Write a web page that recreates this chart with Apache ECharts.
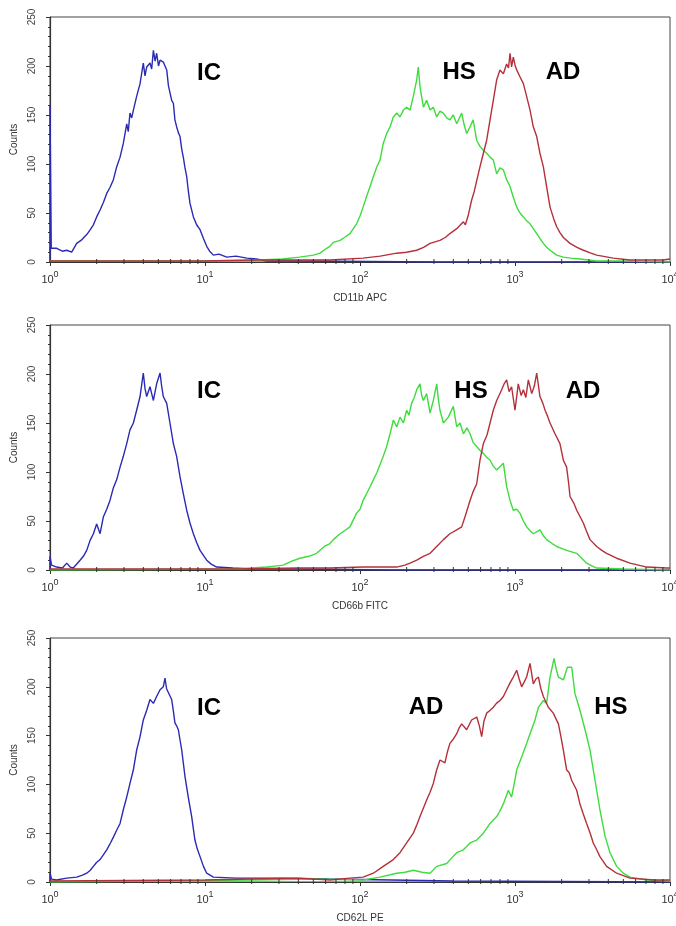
<!DOCTYPE html>
<html>
<head>
<meta charset="utf-8">
<script src="https://cdn.jsdelivr.net/npm/echarts@6/dist/echarts.min.js"></script>
<style>html,body{margin:0;padding:0;background:#fff;}#c{width:676px;height:926px;}</style>
</head>
<body>
<div id="c"></div>
<script>
// x values are log10(fluorescence), y values are counts
const axisNames = ['CD11b APC', 'CD66b FITC', 'CD62L PE'];
const xTickExponents = [0, 1, 2, 3, 4];
const yTicks = [0, 50, 100, 150, 200, 250];
const minorTickValues = [2,3,4,5,6,7,8,9,20,30,40,50,60,70,80,90,200,300,400,500,600,700,800,900,2000,3000,4000,5000,6000,7000,8000,9000];

const cd11bIC = [[0,0],[0,160],[0.008,14],[0.043,14],[0.08,11],[0.108,12],[0.14,10],[0.172,19],[0.2,22],[0.237,28],[0.26,33],[0.28,38],[0.301,46],[0.323,53],[0.345,61],[0.366,70],[0.387,76],[0.409,84],[0.43,97],[0.452,107],[0.473,121],[0.495,141],[0.505,133],[0.516,152],[0.527,147],[0.538,155],[0.559,169],[0.581,182],[0.602,203],[0.613,190],[0.624,199],[0.645,203],[0.656,197],[0.667,216],[0.678,205],[0.688,213],[0.7,200],[0.71,206],[0.731,204],[0.753,196],[0.764,180],[0.774,179],[0.785,165],[0.796,162],[0.806,145],[0.817,138],[0.828,132],[0.839,128],[0.85,115],[0.86,107],[0.871,96],[0.882,87],[0.892,73],[0.903,60],[0.925,46],[0.946,38],[0.968,33],[0.99,24],[1.011,16],[1.03,11],[1.054,7],[1.09,8],[1.14,5],[1.2,6],[1.27,4],[1.33,3],[1.40,1],[1.61,1],[2.5,0],[4,0]];
const cd11bHS = [[0,1],[1.2,1],[1.35,2],[1.5,3],[1.61,5],[1.7,7],[1.742,9],[1.785,14],[1.806,16],[1.828,20],[1.871,22],[1.9,25],[1.935,29],[1.978,39],[2.0,47],[2.02,56],[2.043,67],[2.065,77],[2.086,87],[2.108,97],[2.129,104],[2.15,121],[2.172,131],[2.194,138],[2.215,148],[2.237,152],[2.258,148],[2.28,155],[2.301,158],[2.323,155],[2.344,169],[2.366,186],[2.376,199],[2.387,179],[2.409,158],[2.43,165],[2.452,155],[2.473,158],[2.495,148],[2.516,154],[2.538,152],[2.559,147],[2.58,145],[2.602,150],[2.624,141],[2.656,152],[2.672,140],[2.688,131],[2.71,138],[2.73,145],[2.753,124],[2.774,118],[2.796,114],[2.817,111],[2.839,107],[2.86,104],[2.882,90],[2.903,96],[2.925,94],[2.946,84],[2.968,77],[2.989,66],[3.011,56],[3.032,50],[3.054,46],[3.075,42],[3.097,39],[3.118,34],[3.14,29],[3.161,24],[3.183,19],[3.204,15],[3.226,12],[3.269,7],[3.312,5],[3.36,4],[3.42,3],[3.527,1],[3.7,1],[4,0]];
const cd11bAD = [[0,1],[0.5,1],[1,1],[1.3,2],[1.6,2],[1.806,2],[2.02,4],[2.13,6],[2.237,9],[2.3,10],[2.366,12],[2.41,15],[2.452,19],[2.516,22],[2.55,25],[2.58,29],[2.624,34],[2.667,41],[2.68,38],[2.699,48],[2.72,63],[2.737,72],[2.753,83],[2.774,97],[2.796,111],[2.817,124],[2.839,145],[2.86,165],[2.882,186],[2.903,196],[2.925,192],[2.946,202],[2.958,198],[2.968,213],[2.978,199],[2.989,209],[3.0,201],[3.011,196],[3.032,189],[3.054,182],[3.075,169],[3.097,155],[3.118,138],[3.14,128],[3.161,111],[3.183,97],[3.204,77],[3.226,56],[3.25,44],[3.269,36],[3.29,30],[3.312,25],[3.355,19],[3.4,15],[3.441,12],[3.49,9],[3.527,7],[3.634,4],[3.742,2],[3.957,2],[4,3]];

const cd66bIC = [[0,0],[0,14],[0.01,5],[0.043,3],[0.08,2],[0.108,7],[0.13,3],[0.15,2],[0.194,10],[0.215,14],[0.237,20],[0.258,30],[0.28,37],[0.301,47],[0.312,42],[0.323,37],[0.344,54],[0.366,62],[0.387,71],[0.409,84],[0.43,92],[0.452,105],[0.473,116],[0.495,129],[0.516,143],[0.538,150],[0.559,163],[0.581,177],[0.602,201],[0.613,185],[0.624,177],[0.645,187],[0.656,180],[0.667,173],[0.688,190],[0.71,201],[0.72,188],[0.731,177],[0.753,170],[0.774,150],[0.796,129],[0.817,116],[0.839,95],[0.86,78],[0.882,61],[0.903,48],[0.925,37],[0.946,28],[0.968,20],[1.011,10],[1.04,6],[1.075,3],[1.18,2],[1.3,1],[1.6,1],[2.2,0],[4,0]];
const cd66bHS = [[0,0],[1.2,1],[1.398,3],[1.45,4],[1.505,5],[1.56,9],[1.613,12],[1.67,14],[1.72,17],[1.77,24],[1.806,27],[1.828,31],[1.871,37],[1.9,40],[1.935,44],[1.978,58],[2.0,62],[2.02,71],[2.043,78],[2.065,85],[2.086,92],[2.108,99],[2.13,108],[2.15,116],[2.172,126],[2.194,139],[2.215,153],[2.237,146],[2.258,156],[2.28,150],[2.301,163],[2.316,158],[2.333,170],[2.35,176],[2.366,184],[2.387,190],[2.398,178],[2.409,173],[2.43,180],[2.452,160],[2.473,173],[2.495,190],[2.505,175],[2.516,163],[2.538,150],[2.57,156],[2.602,167],[2.624,146],[2.645,150],[2.667,139],[2.69,145],[2.71,139],[2.73,130],[2.753,126],[2.775,122],[2.796,119],[2.817,115],[2.839,112],[2.86,106],[2.882,102],[2.925,109],[2.946,85],[2.968,71],[2.989,61],[3.01,62],[3.032,58],[3.054,50],[3.075,44],[3.097,40],[3.118,37],[3.161,41],[3.183,35],[3.204,31],[3.24,27],[3.269,24],[3.3,22],[3.333,20],[3.398,17],[3.43,12],[3.462,7],[3.5,4],[3.527,2],[3.7,1],[4,0]];
const cd66bAD = [[0,1],[1.2,1],[1.6,2],[1.806,2],[2.02,3],[2.237,3],[2.29,5],[2.323,7],[2.366,10],[2.409,14],[2.452,17],[2.495,24],[2.538,31],[2.58,37],[2.624,41],[2.656,44],[2.677,54],[2.71,71],[2.73,80],[2.753,88],[2.774,112],[2.796,129],[2.82,138],[2.839,150],[2.86,163],[2.882,173],[2.914,184],[2.93,190],[2.946,194],[2.962,182],[2.978,187],[3.0,163],[3.021,190],[3.04,178],[3.054,184],[3.07,176],[3.086,194],[3.108,180],[3.125,188],[3.14,201],[3.161,177],[3.18,170],[3.194,163],[3.21,157],[3.226,150],[3.258,139],[3.29,129],[3.312,112],[3.333,105],[3.345,90],[3.355,75],[3.38,68],[3.398,61],[3.441,48],[3.46,40],[3.484,31],[3.527,24],[3.56,20],[3.591,17],[3.656,12],[3.742,7],[3.85,3],[3.978,2],[4,2]];

const cd62lIC = [[0,0],[0,9],[0.01,3],[0.043,2],[0.108,4],[0.172,5],[0.21,7],[0.237,9],[0.26,12],[0.28,16],[0.3,20],[0.323,23],[0.345,28],[0.366,33],[0.39,40],[0.409,46],[0.43,53],[0.452,60],[0.473,74],[0.495,87],[0.516,101],[0.538,115],[0.559,135],[0.581,149],[0.602,166],[0.624,176],[0.645,187],[0.667,183],[0.688,190],[0.71,197],[0.731,200],[0.742,209],[0.752,198],[0.763,197],[0.785,187],[0.796,175],[0.806,163],[0.817,160],[0.828,156],[0.85,135],[0.871,108],[0.892,87],[0.914,67],[0.935,43],[0.95,34],[0.968,26],[0.99,16],[1.011,9],[1.054,5],[1.2,4],[1.5,4],[1.8,3],[2.2,2],[2.6,1],[4,0]];
const cd62lAD = [[0,1],[1.0,2],[1.3,3],[1.6,4],[1.806,2],[1.935,4],[2.02,5],[2.086,9],[2.15,16],[2.215,23],[2.258,30],[2.301,40],[2.344,50],[2.365,58],[2.387,67],[2.41,76],[2.43,84],[2.452,92],[2.473,101],[2.495,115],[2.516,125],[2.548,122],[2.565,134],[2.58,142],[2.6,146],[2.624,152],[2.64,158],[2.656,162],[2.688,156],[2.72,166],[2.753,169],[2.77,160],[2.785,149],[2.8,165],[2.817,173],[2.84,176],[2.86,179],[2.88,183],[2.903,186],[2.925,190],[2.946,197],[2.968,204],[2.989,210],[3.011,217],[3.027,208],[3.043,200],[3.06,205],[3.075,210],[3.097,224],[3.118,203],[3.135,208],[3.151,210],[3.167,198],[3.183,190],[3.215,179],[3.247,173],[3.28,162],[3.295,150],[3.312,135],[3.333,115],[3.35,112],[3.366,104],[3.398,94],[3.419,80],[3.44,70],[3.462,60],[3.485,50],[3.505,40],[3.527,33],[3.548,26],[3.591,16],[3.656,9],[3.742,4],[3.9,2],[4,2]];
const cd62lHS = [[0,0],[1.3,2],[1.7,3],[2.02,2],[2.129,5],[2.237,9],[2.29,10],[2.344,12],[2.4,10],[2.452,9],[2.495,16],[2.559,19],[2.6,26],[2.624,30],[2.667,33],[2.71,40],[2.753,43],[2.796,50],[2.839,60],[2.882,67],[2.9,72],[2.925,80],[2.957,94],[2.978,87],[3.0,105],[3.011,115],[3.043,128],[3.075,142],[3.097,152],[3.129,166],[3.151,179],[3.183,186],[3.204,183],[3.226,210],[3.252,229],[3.266,218],[3.28,210],[3.312,207],[3.338,220],[3.366,220],[3.387,193],[3.419,176],[3.452,156],[3.484,135],[3.505,115],[3.527,94],[3.548,74],[3.581,47],[3.613,30],[3.656,16],[3.699,9],[3.742,5],[3.85,2],[4,1]];

const labelsCD11b = [['IC', 1.026, 192], ['HS', 2.639, 194], ['AD', 3.31, 194]];
const labelsCD66b = [['IC', 1.026, 182], ['HS', 2.716, 182], ['AD', 3.439, 182]];
const labelsCD62L = [['IC', 1.026, 178], ['AD', 2.426, 179], ['HS', 3.619, 179]];

const panels = [
  {IC: cd11bIC, HS: cd11bHS, AD: cd11bAD, labels: labelsCD11b},
  {IC: cd66bIC, HS: cd66bHS, AD: cd66bAD, labels: labelsCD66b},
  {IC: cd62lIC, HS: cd62lHS, AD: cd62lAD, labels: labelsCD62L}
];
const colors = {IC: '#2a2ab4', HS: '#3edc3e', AD: '#b4303a'};
const gridTops = [17, 325, 638];
const gridHeights = [245, 245, 244];

const toXY = arr => arr.map(p => [Math.pow(10, p[0]), p[1]]);
const font = 'Liberation Sans, Arial, sans-serif';

const grids = [], xAxes = [], yAxes = [], series = [];
panels.forEach((pn, i) => {
  grids.push({left: 50, width: 620, top: gridTops[i], height: gridHeights[i], outerBoundsMode: 'none', containLabel: false,
    show: true, borderColor: '#444', borderWidth: 1, backgroundColor: '#fff'});
  xAxes.push({
    type: 'log', logBase: 10, gridIndex: i, min: 1, max: 10000,
    name: axisNames[i], nameLocation: 'middle', nameGap: 31,
    nameTextStyle: {fontSize: 10, color: '#333', fontFamily: font},
    axisLine: {show: true, lineStyle: {color: '#333', width: 1.2}},
    axisTick: {show: true, inside: false, length: 4, lineStyle: {color: '#333'}},
    splitLine: {show: false},
    axisLabel: {
      margin: 8, color: '#333', fontFamily: font,
      formatter: v => { const n = Math.round(Math.log10(v)); return xTickExponents.includes(n) ? '{b|10}{s|' + n + '}' : ''; },
      rich: {b: {fontSize: 11, lineHeight: 15, color: '#333', fontFamily: font, verticalAlign: 'bottom'},
             s: {fontSize: 9, color: '#333', fontFamily: font, verticalAlign: 'top'}}
    }
  });
  yAxes.push({
    type: 'value', gridIndex: i, min: yTicks[0], max: yTicks[yTicks.length - 1], interval: 50,
    name: 'Counts', nameLocation: 'middle', nameGap: 27, nameRotate: 90,
    nameTextStyle: {fontSize: 10, color: '#333', fontFamily: font},
    axisLine: {show: true, lineStyle: {color: '#333', width: 1.2}},
    axisTick: {show: true, inside: false, length: 4, lineStyle: {color: '#333'}},
    minorTick: {show: true, splitNumber: 5, length: 2, lineStyle: {color: '#333'}},
    splitLine: {show: false},
    axisLabel: {rotate: 90, margin: 13, fontSize: 10, color: '#444', fontFamily: font}
  });
  ['IC', 'HS', 'AD'].forEach(k => {
    series.push({
      type: 'line', xAxisIndex: i, yAxisIndex: i, data: toXY(pn[k]),
      showSymbol: false, symbol: 'none', smooth: false,
      lineStyle: {color: colors[k], width: 1.4}, z: 3
    });
  });
  series.push({
    type: 'custom', xAxisIndex: i, yAxisIndex: i, clip: false, silent: true, z: 5,
    data: minorTickValues.map(v => [v, 0]),
    renderItem: (params, api) => {
      const p = api.coord([api.value(0), 0]);
      return {type: 'line', shape: {x1: p[0], y1: p[1] - 3, x2: p[0], y2: p[1] + 2}, style: {stroke: '#333', lineWidth: 1}};
    }
  });
  series.push({
    type: 'custom', xAxisIndex: i, yAxisIndex: i, clip: false, silent: true, z: 6,
    data: pn.labels.map(l => [Math.pow(10, l[1]), l[2]]),
    renderItem: (params, api) => {
      const p = api.coord([api.value(0), api.value(1)]);
      const txt = pn.labels[params.dataIndex][0];
      return {type: 'text', x: p[0], y: p[1], style: {text: txt, fill: '#000', font: 'bold 24px ' + font, align: 'center', verticalAlign: 'middle'}};
    }
  });
});

const chart = echarts.init(document.getElementById('c'), null, {renderer: 'canvas'});
chart.setOption({
  animation: false,
  backgroundColor: '#fff',
  grid: grids, xAxis: xAxes, yAxis: yAxes, series: series
});
</script>
</body>
</html>
